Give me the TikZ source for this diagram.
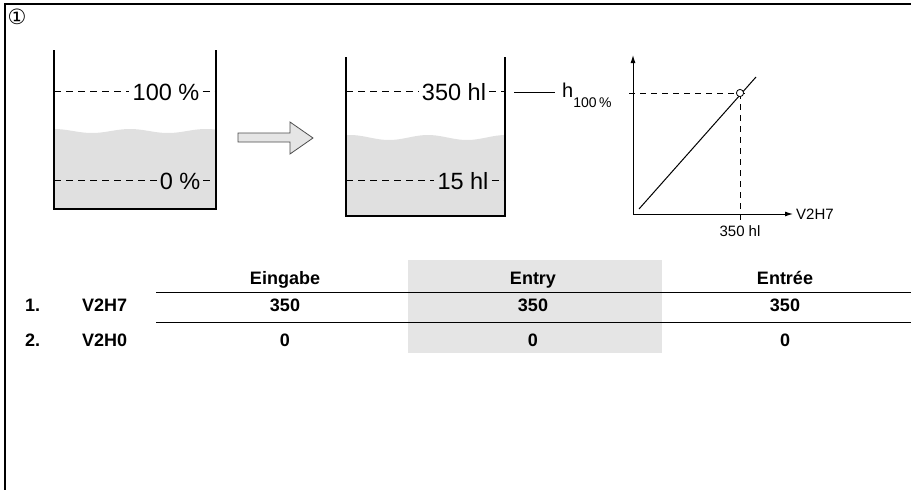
\documentclass[tikz,border=0pt]{standalone}
\usepackage{fontspec}
\setmainfont{Liberation Sans}
\newfontfamily\symfont{DejaVu Sans}
\usetikzlibrary{positioning,arrows.meta}

\definecolor{liquid}{gray}{0.88}
\definecolor{cellgray}{gray}{0.90}

\tikzset{
  wall/.style={line width=2pt, line join=miter},
  level/.style={line width=0.9pt, dash pattern=on 7pt off 5pt},
  lvltext/.style={inner sep=3pt, font=\fontsize{23.5}{25}\selectfont},
  axis/.style={line width=1pt, -{Latex[length=8pt,width=5pt]}},
  guide/.style={line width=0.9pt, dash pattern=on 6pt off 5pt},
  small/.style={font=\fontsize{15}{17}\selectfont},
  cell/.style={font=\fontsize{18}{20}\selectfont\bfseries, inner sep=0pt, anchor=base},
}

\begin{document}
\begin{tikzpicture}[x=1pt, y=-1pt]
  \useasboundingbox (0,0) rectangle (911,490);

  % frame
  \draw[line width=1.6pt] (911,4) -- (5,4) -- (5,490);
  \node[font=\symfont\fontsize{21}{23}\selectfont, inner sep=0pt] (num) at (17,17) {①};

  % first tank, level in percent
  \fill[liquid] (54,209) -- plot[domain=54:216, samples=40]
        (\x, {131-2*cos((\x-54)*4.737)}) -- (216,209) -- cycle;
  \draw[wall] (54,50) -- (54,209) -- (216,209) -- (216,50);
  \node[lvltext] (full1)  at (166,92)  {100 \%};
  \node[lvltext] (empty1) at (180,181) {0 \%};
  \draw[level] (54,91) -- (full1.west |- 54,91);
  \draw[level] (full1.east |- 54,91) -- (216,91);
  \draw[level] (54,180) -- (empty1.west |- 54,180);
  \draw[level] (empty1.east |- 54,180) -- (216,180);

  % hollow arrow
  \draw[fill=cellgray, draw=black!70, line width=0.8pt]
    (238,133) -- (290,133) -- (290,122) -- (313,138) -- (290,154)
    -- (290,142) -- (238,142) -- cycle;

  % second tank, level in hl
  \fill[liquid] (346,216) -- plot[domain=346:505, samples=40]
        (\x, {137.5-2.5*cos((\x-350)*4.615)}) -- (505,216) -- cycle;
  \draw[wall] (346,57) -- (346,216) -- (505,216) -- (505,57);
  \node[lvltext] (full2)  at (454,92)  {350 hl};
  \node[lvltext] (empty2) at (463,181) {15 hl};
  \draw[level] (346,91) -- (full2.west |- 346,91);
  \draw[level] (full2.east |- 346,91) -- (505,91);
  \draw[level] (346,180) -- (empty2.west |- 346,180);
  \draw[level] (empty2.east |- 346,180) -- (505,180);

  \node[anchor=base west, inner sep=0pt, font=\fontsize{20}{22}\selectfont] (h100) at (562,97)
    {h\raisebox{-10pt}{\fontsize{14}{16}\selectfont 100\,\%}};
  \draw[line width=0.9pt] (514,92) -- (555,92);

  % characteristic
  \coordinate (o) at (633,214);
  \coordinate (pt) at (740,93);
  \draw[axis] (o) -- (633,55);
  \draw[axis] (o) -- (793,214);
  \node[small, anchor=west, inner sep=1pt] (xlab) at (795,214) {V2H7};
  \draw[line width=1pt] (639,209) -- (756,77);
  \draw[guide] (629,93) -- (748,93);
  \draw[guide] (pt) -- (740,221);
  \node[small, inner sep=1pt] (xval) at (740,231) {350 hl};
  \draw[fill=white, line width=0.8pt] (pt) circle (3.6);

  % table of entries
  \fill[cellgray] (408,260) rectangle (662,353);
  \draw[line width=1pt] (156,292) -- (911,292);
  \draw[line width=1pt] (156,322) -- (911,322);

  \node[cell] (de)  at (285,284) {Eingabe};
  \node[cell] (en)  at (533,284) {Entry};
  \node[cell] (fr)  at (785,284) {Entrée};

  \node[cell, anchor=base west] (n1) at (25,311) {1.};
  \node[cell, anchor=base west] (p1) at (82,311) {V2H7};
  \node[cell] (de1) at (285,311) {350};
  \node[cell] (en1) at (533,311) {350};
  \node[cell] (fr1) at (785,311) {350};

  \node[cell, anchor=base west] (n2) at (25,346) {2.};
  \node[cell, anchor=base west] (p2) at (82,346) {V2H0};
  \node[cell] (de2) at (285,346) {0};
  \node[cell] (en2) at (533,346) {0};
  \node[cell] (fr2) at (785,346) {0};
\end{tikzpicture}
\end{document}
